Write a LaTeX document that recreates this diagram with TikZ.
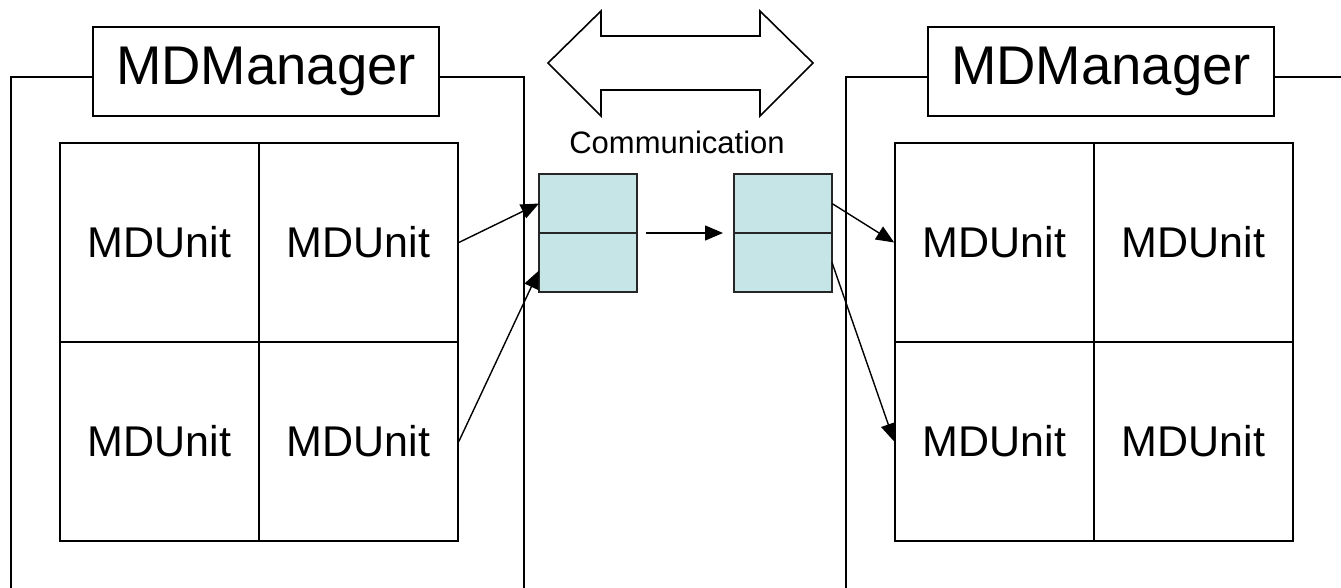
\documentclass[tikz,border=0pt]{standalone}
\usepackage{fontspec}
\setmainfont{Liberation Sans}
\usetikzlibrary{positioning, arrows.meta, calc}
\definecolor{bufcyan}{RGB}{197,229,231}

\begin{document}
\begin{tikzpicture}[x=1pt, y=-1pt, line width=1.6pt,
  unit/.style={draw, rectangle, minimum size=199pt, inner sep=0pt,
               font=\fontsize{43}{43}\selectfont},
  mgr/.style={draw, rectangle, minimum width=346pt, minimum height=89pt,
              inner sep=0pt, font=\fontsize{54.5}{54.5}\selectfont},
  buf/.style={draw=black!85, fill=bufcyan, rectangle, minimum width=98pt,
              minimum height=59pt, inner sep=0pt, outer sep=0pt},
  msg/.style={-{Triangle[length=18pt,width=15pt]}, line width=1.4pt}
]
  \useasboundingbox (0,0) rectangle (1341,587);

  % two managers, each with a 2x2 block of units
  \foreach \s/\x in {l/0, r/835}{
    \node[mgr] (\s mgr) at (\x+266,71.5) {MDManager};
    \coordinate (\s frame) at (\x+11,77);
    \draw (\s mgr.west |- \s frame) -- (\s frame) -- ++(0,530);
    \draw (\s mgr.east |- \s frame) -- (\x+524,77) -- (\x+524,607);
    \foreach \i/\y in {1/242.5, 2/441.5}
      \foreach \j/\u in {1/159.5, 2/358.5}
        \node[unit] (\s\i\j) at (\x+\u,\y) {MDUnit};
  }

  % send and receive buffers
  \node[buf] (lbufa) at (588,203.5) {};
  \node[buf, below=0pt of lbufa] (lbufb) {};
  \node[buf] (rbufa) at (783,203.5) {};
  \node[buf, below=0pt of rbufa] (rbufb) {};
  \node[anchor=base, font=\fontsize{31}{31}\selectfont] (comm) at (677,153) {Communication};

  % two-way arrow over the link
  \draw (548,63) -- (601,11) -- (601,36) -- (760,36) -- (760,11) -- (813,63)
    -- (760,116) -- (760,90) -- (601,90) -- (601,116) -- cycle;

  % data flow
  \draw[msg] (l12.east) -- (lbufa.west);
  \draw[msg] (l22.east) -- ($(lbufb.west)+(0,8)$);
  \draw[msg, shorten <=9pt, shorten >=11pt] (lbufa.south east) -- (rbufa.south west);
  \draw[msg] (rbufa.east) -- (r11.west);
  \draw[msg] (rbufb.east) -- (r21.west);
\end{tikzpicture}
\end{document}
